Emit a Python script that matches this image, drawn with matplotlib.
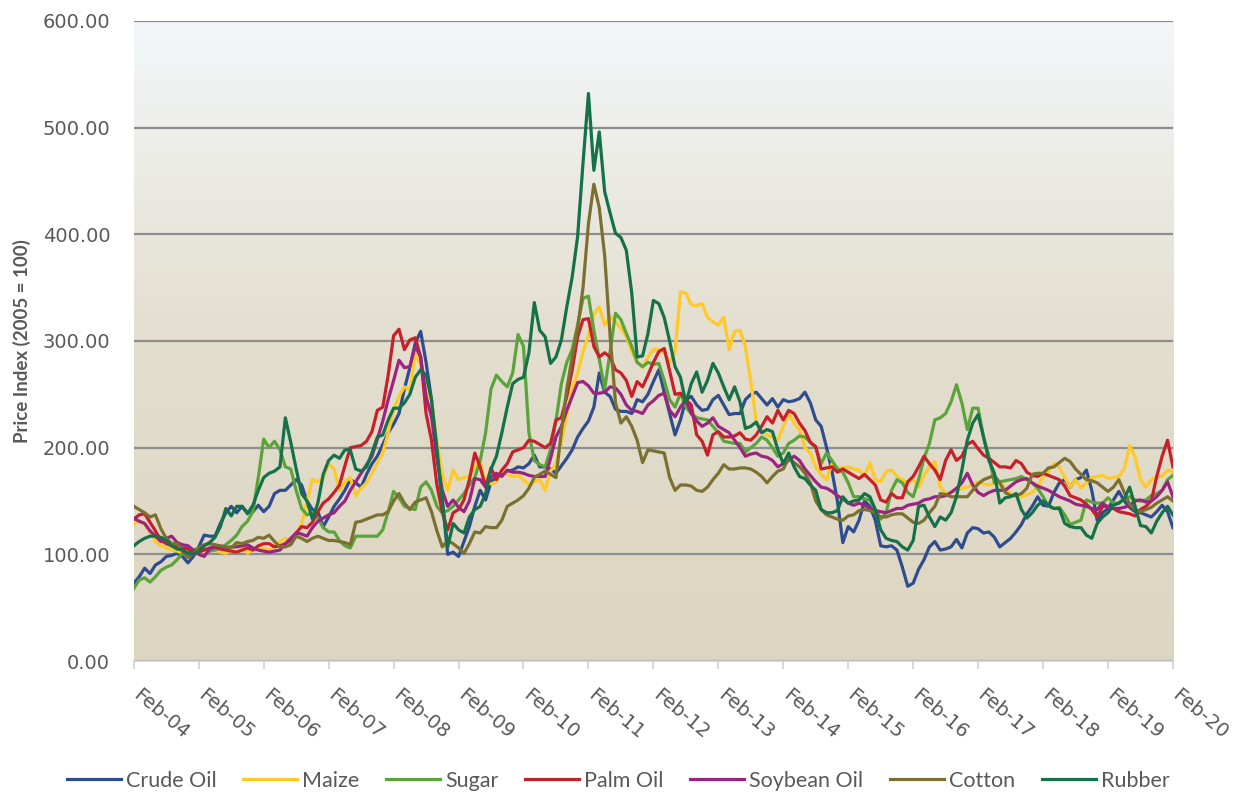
import numpy as np
import matplotlib
matplotlib.use("Agg")
import matplotlib.pyplot as plt
from matplotlib.colors import LinearSegmentedColormap
from matplotlib.transforms import ScaledTranslation

# monthly price indices (2005 = 100), Feb-04 .. Feb-20
crude_oil = [73, 79, 87, 82, 90, 93, 98, 99, 101, 98, 92, 98,
             107, 118, 117, 117, 129, 139, 145, 139, 145, 139, 140, 146,
             140, 145, 157, 160, 160, 165, 170, 165, 150, 142, 140, 126,
             135, 145, 152, 160, 170, 167, 163, 175, 185, 192, 203, 214,
             222, 232, 255, 275, 298, 309, 280, 245, 195, 150, 100, 102,
             98, 112, 126, 145, 160, 151, 168, 172, 176, 178, 179, 182,
             181, 185, 193, 182, 182, 180, 176, 183, 190, 198, 210, 218,
             225, 238, 270, 252, 248, 236, 234, 234, 232, 245, 243, 250,
             262, 273, 252, 232, 212, 226, 245, 248, 240, 235, 236, 245,
             249, 240, 231, 232, 232, 245, 250, 252, 246, 240, 246, 238,
             245, 243, 244, 246, 252, 242, 226, 220, 200, 178, 150, 111,
             126, 121, 132, 150, 145, 132, 108, 107, 108, 104, 88, 70,
             73, 86, 95, 107, 112, 104, 105, 107, 114, 106, 120, 125,
             124, 120, 121, 116, 107, 111, 115, 121, 128, 138, 145, 154,
             146, 145, 158, 167, 170, 163, 170, 172, 179, 160, 132, 139,
             143, 151, 159, 150, 144, 140, 139, 137, 135, 140, 146, 140,
             125]

maize = [128, 132, 128, 120, 112, 108, 106, 104, 103, 101, 100, 102,
         105, 106, 103, 104, 102, 101, 104, 102, 106, 101, 104, 104,
         106, 104, 108, 112, 115, 112, 118, 128, 150, 170, 168, 172,
         185, 180, 160, 168, 172, 155, 162, 167, 176, 186, 195, 214,
         235, 248, 257, 254, 288, 278, 252, 245, 205, 175, 160, 179,
         170, 172, 173, 182, 188, 167, 166, 168, 179, 175, 173, 174,
         170, 165, 168, 170, 160, 178, 185, 205, 230, 255, 270, 290,
         305, 325, 332, 315, 323, 318, 312, 304, 290, 280, 275, 285,
         292, 292, 289, 279, 290, 346, 345, 334, 333, 335, 322, 318,
         315, 322, 292, 309, 310, 295, 262, 225, 215, 212, 210, 207,
         220, 232, 223, 217, 200, 195, 182, 175, 170, 185, 181, 181,
         182, 180, 179, 173, 186, 170, 168, 178, 179, 173, 170, 167,
         170, 163, 174, 182, 187, 163, 157, 158, 160, 162, 163, 165,
         168, 166, 165, 167, 168, 162, 157, 155, 154, 156, 158, 163,
         173, 178, 185, 182, 172, 163, 170, 162, 167, 172, 173, 174,
         171, 172, 173, 180, 202, 191, 170, 163, 170, 173, 173, 179,
         177]

sugar = [68, 76, 78, 74, 79, 85, 88, 90, 95, 101, 102, 104,
         106, 105, 103, 104, 106, 109, 113, 118, 126, 131, 140, 172,
         208, 200, 206, 198, 182, 180, 160, 143, 137, 139, 134, 125,
         121, 121, 113, 108, 106, 117, 117, 117, 117, 117, 123, 140,
         159, 153, 145, 143, 142, 163, 168, 160, 145, 139, 141, 145,
         151, 157, 165, 172, 188, 214, 255, 268, 262, 257, 270, 306,
         295, 214, 188, 184, 182, 198, 225, 260, 280, 292, 315, 340,
         342, 310, 283, 255, 290, 326, 320, 307, 295, 280, 276, 280,
         278, 279, 263, 245, 238, 251, 238, 232, 228, 227, 226, 220,
         214, 206, 205, 204, 204, 196, 200, 204, 210, 207, 200, 192,
         195, 204, 207, 211, 210, 205, 200, 185, 195, 188, 180, 177,
         167, 154, 154, 152, 151, 142, 133, 139, 160, 170, 167, 158,
         154, 170, 190, 204, 226, 228, 232, 243, 259, 242, 217, 237,
         237, 210, 192, 167, 168, 169, 170, 171, 173, 170, 167, 162,
         154, 145, 143, 144, 137, 128, 130, 132, 151, 149, 148, 148,
         153, 148, 148, 152, 154, 151, 150, 151, 155, 157, 160, 170,
         174]

palm_oil = [133, 137, 138, 130, 122, 113, 110, 108, 107, 106, 105, 102,
            102, 104, 106, 107, 105, 104, 103, 102, 104, 106, 104, 108,
            110, 110, 107, 108, 110, 113, 120, 126, 125, 130, 140, 148,
            152, 158, 165, 183, 200, 201, 202, 206, 215, 235, 238, 268,
            305, 311, 292, 301, 303, 285, 232, 207, 165, 139, 123, 139,
            142, 151, 170, 195, 182, 163, 181, 170, 179, 185, 196, 198,
            200, 207, 206, 203, 200, 204, 226, 228, 248, 273, 304, 320,
            321, 295, 285, 289, 285, 273, 270, 263, 248, 262, 257, 268,
            280, 290, 293, 272, 250, 251, 245, 240, 212, 206, 193, 212,
            215, 210, 210, 211, 214, 208, 207, 212, 220, 229, 223, 235,
            226, 235, 232, 223, 216, 205, 201, 180, 181, 182, 177, 180,
            177, 174, 171, 175, 170, 165, 151, 149, 157, 153, 153, 168,
            173, 182, 192, 185, 179, 170, 188, 198, 188, 192, 203, 206,
            199, 193, 190, 186, 182, 182, 181, 188, 185, 177, 174, 173,
            176, 174, 172, 170, 164, 155, 153, 151, 147, 142, 135, 145,
            145, 143, 140, 139, 138, 136, 142, 145, 150, 173, 192, 207,
            182]

soybean_oil = [134, 131, 129, 122, 117, 112, 115, 117, 111, 109, 108, 104,
               100, 98, 105, 107, 107, 106, 107, 107, 108, 109, 106, 104,
               103, 102, 103, 104, 110, 115, 120, 119, 117, 125, 131, 134,
               137, 139, 145, 150, 160, 168, 176, 184, 192, 208, 225, 245,
               263, 282, 275, 276, 295, 285, 248, 229, 190, 160, 145, 151,
               144, 140, 150, 171, 170, 163, 172, 176, 173, 179, 177, 177,
               176, 174, 173, 173, 173, 190, 210, 220, 235, 248, 261, 262,
               258, 251, 251, 252, 257, 256, 250, 240, 235, 234, 232, 240,
               244, 249, 251, 235, 229, 238, 245, 232, 225, 220, 223, 228,
               220, 217, 214, 207, 200, 192, 194, 195, 192, 191, 188, 182,
               185, 188, 192, 188, 180, 174, 168, 163, 162, 159, 155, 152,
               148, 146, 148, 146, 143, 141, 140, 139, 141, 143, 143, 146,
               147, 148, 151, 152, 154, 154, 155, 158, 162, 167, 176, 165,
               158, 155, 158, 160, 160, 160, 164, 168, 170, 171, 167, 164,
               162, 160, 157, 154, 152, 150, 147, 146, 145, 143, 142, 148,
               144, 143, 143, 144, 146, 150, 151, 149, 150, 154, 160, 168,
               154]

cotton = [145, 142, 139, 135, 137, 124, 115, 110, 110, 103, 97, 100,
          106, 109, 110, 109, 108, 107, 106, 111, 110, 112, 113, 116,
          115, 118, 112, 107, 107, 109, 117, 115, 112, 115, 117, 115,
          113, 113, 112, 111, 109, 130, 131, 133, 135, 137, 137, 140,
          150, 157, 148, 142, 149, 151, 153, 140, 122, 107, 113, 110,
          106, 101, 110, 121, 120, 126, 125, 125, 132, 145, 148, 151,
          155, 162, 172, 175, 178, 175, 172, 215, 255, 285, 312, 350,
          410, 447, 425, 380, 305, 242, 223, 229, 220, 207, 186, 198,
          197, 196, 195, 172, 160, 165, 165, 164, 160, 159, 163, 170,
          176, 184, 180, 180, 181, 181, 180, 177, 173, 167, 173, 178,
          180, 190, 186, 182, 176, 167, 150, 142, 137, 135, 133, 132,
          136, 137, 141, 142, 141, 139, 135, 135, 137, 138, 138, 134,
          130, 129, 132, 139, 145, 157, 156, 154, 154, 154, 154, 160,
          166, 170, 172, 174, 167, 158, 155, 155, 157, 162, 175, 176,
          176, 181, 182, 186, 190, 187, 180, 175, 170, 169, 167, 163,
          159, 163, 170, 158, 147, 142, 140, 142, 144, 148, 151, 154,
          150]

rubber = [108, 112, 115, 117, 117, 116, 113, 108, 105, 104, 101, 100,
          103, 108, 111, 116, 126, 143, 136, 145, 145, 138, 146, 160,
          172, 176, 178, 182, 228, 205, 180, 157, 150, 133, 148, 175,
          188, 193, 190, 198, 198, 180, 178, 182, 195, 210, 212, 226,
          237, 237, 242, 250, 266, 273, 268, 245, 200, 150, 107, 129,
          123, 120, 135, 142, 145, 157, 180, 192, 214, 238, 260, 264,
          266, 289, 336, 310, 304, 279, 285, 301, 332, 360, 398, 467,
          532, 460, 496, 440, 420, 401, 397, 385, 345, 285, 286, 307,
          338, 335, 322, 300, 276, 266, 242, 260, 271, 252, 263, 279,
          270, 257, 245, 257, 243, 218, 220, 224, 214, 217, 215, 198,
          185, 195, 182, 173, 171, 165, 160, 142, 139, 139, 141, 154,
          148, 150, 151, 157, 154, 142, 123, 115, 113, 112, 107, 104,
          113, 145, 146, 135, 126, 135, 132, 139, 154, 179, 207, 223,
          231, 210, 188, 176, 148, 153, 154, 157, 142, 134, 139, 146,
          150, 146, 143, 143, 129, 126, 125, 125, 118, 115, 129, 135,
          139, 146, 148, 152, 163, 145, 127, 126, 120, 131, 139, 145,
          137]

tick_labels = ["Feb-04", "Feb-05", "Feb-06", "Feb-07", "Feb-08", "Feb-09",
               "Feb-10", "Feb-11", "Feb-12", "Feb-13", "Feb-14", "Feb-15",
               "Feb-16", "Feb-17", "Feb-18", "Feb-19", "Feb-20"]

series = [("Crude Oil", crude_oil, "#2E4C8E"),
          ("Maize", maize, "#FFC926"),
          ("Sugar", sugar, "#5BA33B"),
          ("Palm Oil", palm_oil, "#C8202B"),
          ("Soybean Oil", soybean_oil, "#9A2482"),
          ("Cotton", cotton, "#7C7030"),
          ("Rubber", rubber, "#147149")]

grey = "#595959"

fig = plt.figure(figsize=(12.39, 7.92), dpi=100)
ax = fig.add_axes([0.108, 0.1654, 0.8387, 0.8081])

# background gradient of the plot area
grad_cmap = LinearSegmentedColormap.from_list(
    "bg", [(0.0, "#DCD5C0"), (0.5, "#E3DECE"), (1.0, "#F3F7FA")])
grad = np.linspace(0, 1, 256).reshape(-1, 1)
ax.imshow(grad, extent=[0, 1, 0, 1], transform=ax.transAxes, aspect="auto",
          cmap=grad_cmap, origin="lower", zorder=0)

for name, vals, col in series:
    ax.plot(np.arange(len(vals)), vals, color=col, lw=2.3, label=name,
            zorder=3, solid_joinstyle="round")

ax.set_xlim(0, 192)
ax.set_ylim(0, 600)
ax.set_yticks(np.arange(0, 601, 100))
ax.set_yticklabels(["%.2f" % v for v in np.arange(0, 601, 100)],
                   family="DejaVu Sans", fontsize=14)
ax.yaxis.grid(True, color="#8E8E8E", lw=1.6, zorder=1)
ax.set_axisbelow(True)

ax.set_xticks(np.arange(0, 193, 12))
ax.set_xticklabels(tick_labels, rotation=-40, ha="left", va="top",
                   rotation_mode="anchor", family="DejaVu Sans", fontsize=14)
ax.tick_params(axis="x", length=6, width=1.2, color="#D0D0D0", colors=grey,
               pad=12)
ax.tick_params(axis="x", color="#D0D0D0")
ax.tick_params(axis="y", length=0, colors=grey, pad=17)
# nudge the slanted labels so they start just right of each tick
shift = ScaledTranslation(8 / 100, 0, fig.dpi_scale_trans)
for lab in ax.get_xticklabels():
    lab.set_transform(lab.get_transform() + shift)

for s in ["top", "right", "left"]:
    ax.spines[s].set_visible(False)
ax.spines["bottom"].set_color("#D0D0D0")
ax.spines["bottom"].set_linewidth(1.2)

ax.set_ylabel("Price Index (2005 = 100)", fontsize=13.5, fontweight="bold",
              color=grey, labelpad=8, family=["Lato", "DejaVu Sans"])

fig.legend(loc="lower center", bbox_to_anchor=(0.499, -0.023), ncol=7,
           frameon=False, handlelength=2.5, handletextpad=0.23,
           columnspacing=1.25, labelcolor=grey,
           prop={"family": ["Lato", "DejaVu Sans"], "size": 15.5})

fig.savefig("out.png", dpi=100)
